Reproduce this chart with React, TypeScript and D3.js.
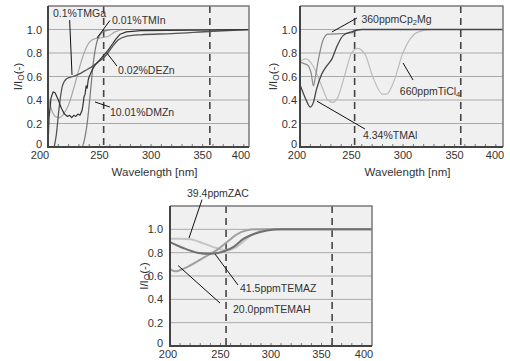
import React, { useEffect, useRef } from "react";
import * as d3 from "d3";

const FONT = "'Liberation Sans', Arial, Helvetica, sans-serif";

const xTicks = [200, 250, 300, 350, 400];
const yTicks = [0, 0.2, 0.4, 0.6, 0.8, 1.0];
const yTickLabels = ["0", "0.2", "0.4", "0.6", "0.8", "1.0"];

// panel 1 : [wavelength nm, I/I0]
const tmga: [number, number][] = [
  [206, 0], [208, 0.1], [211, 0.35], [214, 0.52], [218, 0.58], [224, 0.6], [230, 0.62],
  [236, 0.65], [242, 0.68], [248, 0.72], [254, 0.76], [258, 0.8], [263, 0.86], [268, 0.91],
  [275, 0.94], [290, 0.955], [320, 0.965], [360, 0.985], [400, 1.0],
];
const tmin: [number, number][] = [
  [200, 0.43], [203, 0.33], [207, 0.26], [211, 0.25], [215, 0.28], [220, 0.36], [225, 0.5],
  [230, 0.66], [235, 0.8], [240, 0.89], [245, 0.92], [252, 0.93], [258, 0.94], [265, 0.98],
  [275, 1.0], [400, 1.0],
];
const dezn: [number, number][] = [
  [200, 0], [201, 0.25], [203, 0.42], [205, 0.47], [207, 0.46], [210, 0.4], [213, 0.33],
  [216, 0.28], [219, 0.26], [221, 0.27], [223, 0.25], [225, 0.27], [227, 0.26], [229, 0.28],
  [231, 0.27], [233, 0.31], [234, 0.36], [235, 0.43], [236, 0.45], [237, 0.52], [238, 0.5],
  [239, 0.57], [240, 0.6], [241, 0.62], [243, 0.66], [246, 0.7], [250, 0.74], [254, 0.78],
  [258, 0.82], [262, 0.87], [266, 0.92], [270, 0.96], [276, 0.98], [290, 0.99], [400, 1.0],
];
const dmzn: [number, number][] = [
  [200, 0], [233, 0], [235, 0.05], [238, 0.2], [241, 0.45], [244, 0.72], [247, 0.88],
  [250, 0.95], [256, 0.99], [265, 1.0], [400, 1.0],
];

// panel 2
const cp2mg: [number, number][] = [
  [200, 0.72], [204, 0.71], [208, 0.69], [211, 0.62], [213, 0.52], [215, 0.6], [218, 0.75],
  [222, 0.9], [227, 0.96], [240, 0.965], [250, 0.97], [255, 1.0], [400, 1.0],
];
const tmal: [number, number][] = [
  [200, 0.53], [205, 0.42], [210, 0.34], [213, 0.38], [216, 0.49], [221, 0.62], [226, 0.69],
  [231, 0.75], [236, 0.86], [242, 0.95], [250, 0.98], [260, 1.0], [400, 1.0],
];
const ticl4: [number, number][] = [
  [200, 0.73], [206, 0.75], [212, 0.7], [221, 0.52], [227, 0.4], [232, 0.38], [237, 0.43],
  [244, 0.63], [250, 0.8], [256, 0.84], [263, 0.79], [271, 0.59], [280, 0.45], [284, 0.45],
  [292, 0.58], [299, 0.78], [307, 0.92], [315, 0.98], [328, 1.0], [400, 1.0],
];

// panel 3
const zac: [number, number][] = [
  [200, 0.92], [210, 0.92], [220, 0.915], [233, 0.88], [246, 0.84], [256, 0.82], [266, 0.85],
  [276, 0.92], [285, 0.97], [296, 1.0], [400, 1.0],
];
const temaz: [number, number][] = [
  [200, 0.89], [213, 0.84], [227, 0.8], [240, 0.79], [253, 0.81], [263, 0.85], [273, 0.92],
  [283, 0.96], [296, 0.99], [310, 1.0], [400, 1.0],
];
const temah: [number, number][] = [
  [200, 0.66], [205, 0.64], [210, 0.65], [220, 0.69], [230, 0.74], [240, 0.79], [246, 0.82],
  [255, 0.88], [265, 0.95], [275, 0.99], [285, 1.0], [400, 1.0],
];

type Part = [string, boolean];
type Note = { parts: Part[]; at: [number, number]; from: [number, number]; to: [number, number] };
type Series = { data: [number, number][]; color: string; width: number; smooth: boolean };

const panels: {
  left: number; right: number; top: number; bottom: number; xMax: number;
  dashes: number[]; yLabelGap: number; yTitleX: number; xTitle: boolean; firstShift: number;
  series: Series[]; notes: Note[];
}[] = [
  {
    left: 48, right: 249, top: 6, bottom: 147, xMax: 395, dashes: [254, 357],
    yLabelGap: 6, yTitleX: 22, xTitle: true, firstShift: -8,
    series: [
      { data: tmin, color: "#a8a8a8", width: 1.2, smooth: true },
      { data: dmzn, color: "#777", width: 1.2, smooth: true },
      { data: tmga, color: "#555", width: 1.3, smooth: true },
      { data: dezn, color: "#333", width: 1.2, smooth: false },
    ],
    notes: [
      { parts: [["0.1%TMGa", false]], at: [204.8, 1.106], from: [221, 1.08], to: [223.3, 0.613] },
      { parts: [["0.01%TMIn", false]], at: [262, 1.047], from: [260.1, 1.077], to: [247.5, 0.928] },
      { parts: [["0.02%DEZn", false]], at: [268, 0.621], from: [266.9, 0.689], to: [257.2, 0.8] },
      { parts: [["10.01%DMZn", false]], at: [260.1, 0.26], from: [260.1, 0.34], to: [245.6, 0.383] },
    ],
  },
  {
    left: 300, right: 503, top: 6, bottom: 147, xMax: 397, dashes: [253, 356],
    yLabelGap: 3, yTitleX: 277, xTitle: true, firstShift: -3,
    series: [
      { data: ticl4, color: "#bbb", width: 1.2, smooth: true },
      { data: cp2mg, color: "#888", width: 1.2, smooth: true },
      { data: tmal, color: "#444", width: 1.3, smooth: true },
    ],
    notes: [
      { parts: [["360ppmCp", false], ["2", true], ["Mg", false]], at: [259.6, 1.055], from: [255.3, 1.098], to: [231, 0.979] },
      { parts: [["660ppmTiCl", false], ["4", true]], at: [296.9, 0.443], from: [309.7, 0.57], to: [300, 0.715] },
      { parts: [["4.34%TMAl", false]], at: [261.1, 0.068], from: [263.1, 0.153], to: [216.5, 0.39] },
    ],
  },
  {
    left: 170, right: 372, top: 206, bottom: 346, xMax: 400, dashes: [255.5, 360.5],
    yLabelGap: 7, yTitleX: 148, xTitle: false, firstShift: -2,
    series: [
      { data: zac, color: "#c4c4c4", width: 2, smooth: true },
      { data: temah, color: "#a0a0a0", width: 2, smooth: true },
      { data: temaz, color: "#707070", width: 2, smooth: true },
    ],
    notes: [
      { parts: [["39.4ppmZAC", false]], at: [216.8, 1.277], from: [231.7, 1.255], to: [218.8, 0.925] },
      { parts: [["41.5ppmTEMAZ", false]], at: [269.3, 0.463], from: [267.3, 0.523], to: [244.6, 0.788] },
      { parts: [["20.0ppmTEMAH", false]], at: [262.4, 0.283], from: [249.5, 0.368], to: [208, 0.69] },
    ],
  },
];

function addText(g: any, parts: Part[], size: number) {
  parts.forEach(([s, sub]) => {
    g.append("tspan")
      .attr("font-size", sub ? size * 0.72 : size)
      .attr("baseline-shift", sub ? "-25%" : null)
      .text(s);
  });
}

export default function App() {
  const ref = useRef<SVGSVGElement>(null);

  useEffect(() => {
    const svg = d3.select(ref.current);
    svg.selectAll("*").remove();

    panels.forEach((p, i) => {
      const x = d3.scaleLinear().domain([200, p.xMax]).range([p.left, p.right]);
      const y = d3.scaleLinear().domain([0, 1.2]).range([p.bottom, p.top]);
      const g = svg.append("g");

      g.append("clipPath").attr("id", `clip${i}`)
        .append("rect").attr("x", p.left).attr("y", p.top)
        .attr("width", p.right - p.left).attr("height", p.bottom - p.top);

      g.append("rect")
        .attr("x", p.left).attr("y", p.top)
        .attr("width", p.right - p.left).attr("height", p.bottom - p.top)
        .attr("fill", "#f0f0f0");

      // grid
      g.selectAll(".grid").data(yTicks.slice(1)).join("line")
        .attr("x1", p.left).attr("x2", p.right)
        .attr("y1", d => y(d)).attr("y2", d => y(d))
        .attr("stroke", "#a9a9a9").attr("stroke-width", 1);

      // minor ticks
      g.selectAll(".minor").data(d3.range(210, p.xMax, 10)).join("line")
        .attr("x1", d => x(d)).attr("x2", d => x(d))
        .attr("y1", p.bottom).attr("y2", p.bottom - 3)
        .attr("stroke", "#777").attr("stroke-width", 1);

      // dashed marker lines
      g.selectAll(".dash").data(p.dashes).join("line")
        .attr("x1", d => x(d)).attr("x2", d => x(d))
        .attr("y1", p.top).attr("y2", p.bottom)
        .attr("stroke", "#444").attr("stroke-width", 1.6)
        .attr("stroke-dasharray", "7,5");

      // curves
      const cg = g.append("g").attr("clip-path", `url(#clip${i})`);
      p.series.forEach(s => {
        const line = d3.line<[number, number]>()
          .x(d => x(d[0])).y(d => y(d[1]))
          .curve(s.smooth ? d3.curveMonotoneX : d3.curveLinear);
        cg.append("path").attr("d", line(s.data))
          .attr("fill", "none").attr("stroke", s.color)
          .attr("stroke-width", s.width).attr("stroke-linejoin", "round");
      });

      // frame
      g.append("path")
        .attr("d", `M${p.left},${p.top}H${p.right}V${p.bottom}`)
        .attr("fill", "none").attr("stroke", "#7a7a7a").attr("stroke-width", 1.5);
      g.append("path")
        .attr("d", `M${p.left},${p.top}V${p.bottom}H${p.right}`)
        .attr("fill", "none").attr("stroke", "#444").attr("stroke-width", 2);

      // tick labels
      g.selectAll(".xl").data(xTicks).join("text")
        .attr("x", (d, k) => Math.min(x(d), p.right - 8) + (k === 0 ? p.firstShift : 0))
        .attr("y", p.bottom + 12)
        .attr("text-anchor", "middle")
        .attr("font-family", FONT).attr("font-size", 11).attr("fill", "#333")
        .text(d => String(d));
      g.selectAll(".yl").data(yTicks).join("text")
        .attr("x", p.left - p.yLabelGap)
        .attr("y", d => y(d) + (d === 0 ? 1 : 4))
        .attr("text-anchor", "end")
        .attr("font-family", FONT).attr("font-size", 11).attr("fill", "#333")
        .text((d, k) => yTickLabels[k]);

      // axis titles
      const yt = g.append("text")
        .attr("transform", `translate(${p.yTitleX},${(p.top + p.bottom) / 2}) rotate(-90)`)
        .attr("text-anchor", "middle")
        .attr("font-family", FONT).attr("fill", "#333");
      addText(yt, [["I/I", false], ["O", true], ["(-)", false]], 11.5);
      if (p.xTitle) {
        g.append("text")
          .attr("x", (p.left + p.right) / 2 + 6).attr("y", p.bottom + 29)
          .attr("text-anchor", "middle")
          .attr("font-family", FONT).attr("font-size", 11.5).attr("fill", "#333")
          .text("Wavelength [nm]");
      }

      // annotations
      p.notes.forEach(n => {
        g.append("line")
          .attr("x1", x(n.from[0])).attr("y1", y(n.from[1]))
          .attr("x2", x(n.to[0])).attr("y2", y(n.to[1]))
          .attr("stroke", "#111").attr("stroke-width", 1);
        const t = g.append("text")
          .attr("x", x(n.at[0])).attr("y", y(n.at[1]))
          .attr("font-family", FONT).attr("fill", "#333");
        addText(t, n.parts, 10.5);
      });
    });
  }, []);

  return (
    <svg ref={ref} width={510} height={361}
      style={{ position: "absolute", left: 0, top: 0, background: "#fff" }} />
  );
}
